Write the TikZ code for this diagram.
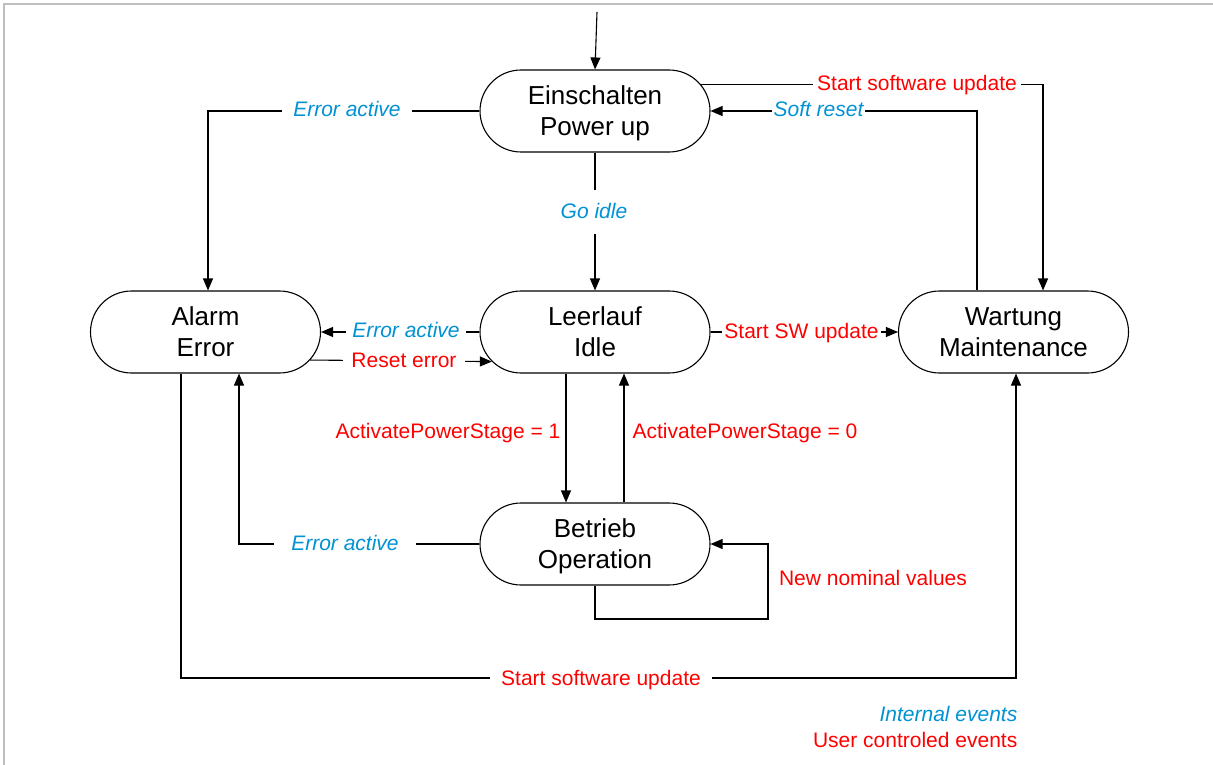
\documentclass[tikz,border=0pt]{standalone}
\usepackage{fontspec}
\setmainfont{Liberation Sans}
\usetikzlibrary{shapes.misc,arrows.meta,calc}
\definecolor{intblue}{RGB}{0,146,212}
\definecolor{usrred}{RGB}{255,0,0}
\definecolor{framegrey}{RGB}{190,190,190}
\begin{document}
\begin{tikzpicture}[x=1pt,y=-1pt,
  state/.style={draw,line width=1.1pt,rounded rectangle,minimum width=230pt,minimum height=82pt,inner sep=0pt,align=center,text height=48.5pt,text depth=0pt,font=\fontsize{26}{31}\selectfont},
  conn/.style={line width=1.1pt},
  arr/.style={conn,-{Triangle[length=12pt,width=10pt]}},
  lbl/.style={fill=white,inner xsep=8pt,inner ysep=1pt,text height=16.5pt,text depth=3.5pt},
  intl/.style={lbl,text=intblue,font=\fontsize{21}{25}\selectfont\itshape},
  usr/.style={lbl,text=usrred,font=\fontsize{21}{25}\selectfont}]
\useasboundingbox (0,0) rectangle (1213,765);
\draw[framegrey,line width=2pt] (4,765) -- (4,4) -- (1213,4);

% states
\node[state] (pu) at (595,111) {Einschalten\\Power up};
\node[state] (al) at (205.5,332) {Alarm\\Error};
\node[state] (id) at (595,332) {Leerlauf\\Idle};
\node[state] (mt) at (1013.5,332) {Wartung\\Maintenance};
\node[state] (op) at (595,544) {Betrieb\\Operation};

% connectors
\coordinate (start) at (597,12);
\draw[arr] (start) -- (pu.north);
\draw[arr] (pu.west) -| ($(al.north)+(2.5,0)$);
\draw[arr] (pu.south) -- (id.north);
\draw[arr] (pu.14.4) -| ($(mt.north)+(29.5,0)$);
\draw[arr] ($(mt.north)+(-36.5,0)$) |- (pu.east);
\draw[arr] (id.west) -- (al.east);
\draw[arr] (al.-15.8) -- (id.-164.2);
\draw[arr] (id.east) -- (mt.west);
\draw[arr] ($(id.south)+(-29,0)$) -- ($(op.north)+(-29,0)$);
\draw[arr] ($(op.north)+(29,0)$) -- ($(id.south)+(29,0)$);
\draw[arr] (op.west) -| ($(al.south)+(33.5,0)$);
\coordinate (loop) at (768,619);
\draw[arr] (op.south) |- (loop) |- (op.east);
\coordinate (a1) at ($(al.south)+(-24.5,0)$);
\coordinate (m1) at ($(mt.south)+(2.5,0)$);
\coordinate (bot) at (600,678);
\draw[arr] (a1) -- (a1 |- bot) -- (m1 |- bot) -- (m1);

% labels
\node[intl,inner xsep=11pt] (l1) at (347,110) {Error active};
\node[intl,inner ysep=12pt] (l2) at (594,212) {Go idle};
\node[usr,inner xsep=4.5pt]  (l3) at (917,84) {Start software update};
\node[intl,inner xsep=2pt] (l4) at (818.5,110) {Soft reset};
\node[intl,inner xsep=6.5pt] (l5) at (406,331) {Error active};
\node[usr]  (l6) at (404,361) {Reset error};
\node[usr,inner xsep=2pt] (l7) at (801.5,332) {Start SW update};
\node[usr,fill=none] (l8) at (448,432) {ActivatePowerStage = 1};
\node[usr,fill=none] (l9) at (745,432) {ActivatePowerStage = 0};
\node[intl,inner xsep=17pt] (l10) at (345,544) {Error active};
\node[usr,fill=none] (l11) at (873,579) {New nominal values};
\node[usr,inner xsep=11.5pt] (l12) at (601,679) {Start software update};
\node[intl,fill=none,anchor=east] (lg1) at (1025.5,715) {Internal events};
\node[usr,fill=none,anchor=east] (lg2) at (1025.5,741) {User controled events};
\end{tikzpicture}
\end{document}
